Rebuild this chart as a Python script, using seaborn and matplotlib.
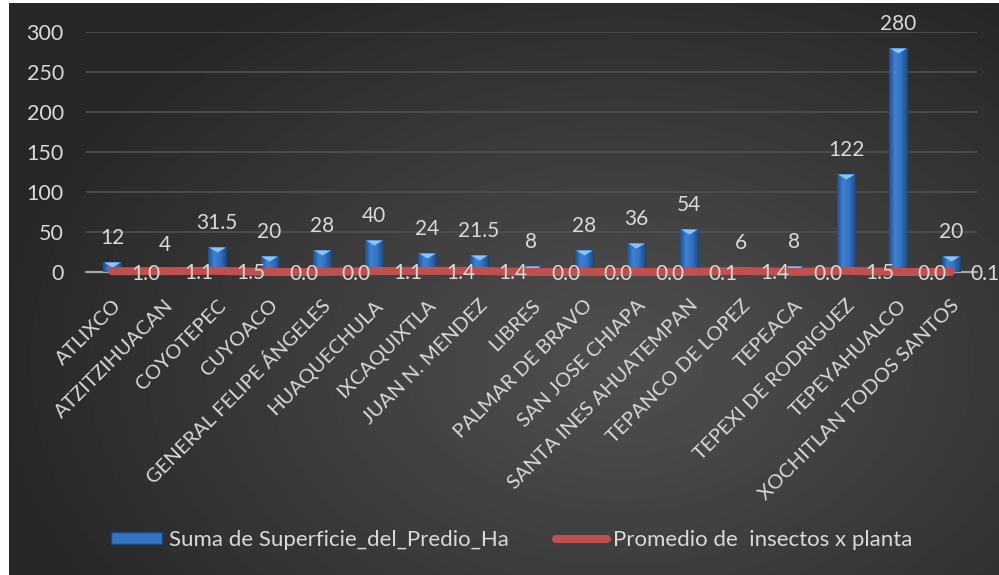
# Superficie por municipio y promedio de insectos por planta

import numpy as np
import pandas as pd
import matplotlib
matplotlib.use('Agg')
import matplotlib.pyplot as plt
import matplotlib.transforms as mtransforms
from matplotlib.colors import LinearSegmentedColormap
from matplotlib.patches import Patch
from matplotlib.lines import Line2D
import seaborn as sns

municipios = ['ATLIXCO', 'ATZITZIHUACAN', 'COYOTEPEC', 'CUYOACO', 'GENERAL FELIPE ÁNGELES',
              'HUAQUECHULA', 'IXCAQUIXTLA', 'JUAN N. MENDEZ', 'LIBRES', 'PALMAR DE BRAVO',
              'SAN JOSE CHIAPA', 'SANTA INES AHUATEMPAN', 'TEPANCO DE LOPEZ', 'TEPEACA',
              'TEPEXI DE RODRIGUEZ', 'TEPEYAHUALCO', 'XOCHITLAN TODOS SANTOS']
superficie = [12, 4, 31.5, 20, 28, 40, 24, 21.5, 8, 28, 36, 54, 6, 8, 122, 280, 20]
insectos = [1.0, 1.1, 1.5, 0.0, 0.0, 1.1, 1.4, 1.4, 0.0, 0.0, 0.0, 0.1, 1.4, 0.0, 1.5, 0.0, 0.1]
y_ticks = [0, 50, 100, 150, 200, 250, 300]

serie_barras = 'Suma de Superficie_del_Predio_Ha'
serie_linea = 'Promedio de  insectos x planta'

txt = '#d9d9d9'
rojo = '#c0504d'

sns.set_theme(style='dark')
plt.rcParams['font.family'] = ['Lato', 'DejaVu Sans']

df = pd.DataFrame({'municipio': municipios, 'superficie': superficie, 'insectos': insectos})
n = len(df)

fig = plt.figure(figsize=(9.99, 5.75), dpi=100, facecolor='white')

# fondo con degradado radial (estilo Excel)
bg = fig.add_axes([9 / 999, 0, 990 / 999, 572 / 575], zorder=0)
bg.set_axis_off()
yy, xx = np.mgrid[0:572, 0:990]
r = np.sqrt(((xx - 610) / 640) ** 2 + ((yy - 360) / 440) ** 2)
shade = 0.31 - 0.16 * np.clip(r, 0, 1) ** 1.1
bg.imshow(shade, cmap='gray', vmin=0, vmax=1, aspect='auto', interpolation='bilinear')

ax = fig.add_axes([86 / 999, 1 - 272 / 575, (977 - 86) / 999, 240 / 575], zorder=1)
ax.set_facecolor('none')

sns.barplot(data=df, x='municipio', y='superficie', color='#2f6db8', width=0.34,
            saturation=1, edgecolor='#1b467c', linewidth=0.8, ax=ax, zorder=2)

# degradado horizontal dentro de cada barra
cmap_barra = LinearSegmentedColormap.from_list('barra', ['#1f4f8f', '#3f82d2', '#3373c2', '#204f8c'])
grad = np.linspace(0, 1, 64)[None, :]
for p in list(ax.patches):
    x0, y0 = p.get_x(), p.get_y()
    im = ax.imshow(grad, cmap=cmap_barra, aspect='auto', zorder=2.5,
                   extent=[x0, x0 + p.get_width(), y0, y0 + p.get_height()])
    im.set_clip_path(p)

# bisel superior de las barras
ax.plot(np.arange(n), df['superficie'], ls='none', marker=[(-1, 0), (1, 0), (0, -0.6)],
        markersize=12, color='#8cc4f7', markeredgewidth=0, zorder=3)

ax.axhline(0, color='#a6a6a6', lw=1.6, zorder=1.5, clip_on=False)

sns.lineplot(x=np.arange(n), y=df['insectos'], color=rojo, lw=5.8, ax=ax,
             solid_capstyle='round', zorder=4, clip_on=False)

for i, v in enumerate(superficie):
    ax.annotate(f'{v:g}', (i, v), xytext=(0, 13), textcoords='offset points',
                ha='center', va='baseline', color=txt, fontsize=15, zorder=5)
for i, v in enumerate(insectos):
    ax.annotate(f'{v:.1f}', (i, v), xytext=(14, -6), textcoords='offset points',
                ha='left', va='baseline', color=txt, fontsize=15, zorder=5,
                annotation_clip=False)

ax.set_xlim(-0.5, n - 0.5)
ax.set_ylim(0, 300)
ax.set_yticks(y_ticks)
ax.set_xlabel('')
ax.set_ylabel('')
ax.yaxis.grid(True, color='#505050', lw=1.2)
ax.xaxis.grid(False)
for s in ax.spines.values():
    s.set_visible(False)

ax.tick_params(axis='y', labelcolor=txt, labelsize=15.5, length=0, pad=16)
ax.tick_params(axis='x', labelcolor=txt, labelsize=14.5, length=0, pad=22)
desplaza = mtransforms.ScaledTranslation(6 / 100, 0, fig.dpi_scale_trans)
for lab in ax.get_xticklabels():
    lab.set_rotation(45)
    lab.set_ha('right')
    lab.set_va('center')
    lab.set_rotation_mode('anchor')
    lab.set_transform(lab.get_transform() + desplaza)

handles = [Patch(facecolor='#3574c0', edgecolor='#1b467c', label=serie_barras),
           Line2D([0], [0], color=rojo, lw=5.8, solid_capstyle='round', label=serie_linea)]
fig.legend(handles=handles, loc='center', bbox_to_anchor=(0.5125, 0.061), ncol=2,
           frameon=False, fontsize=16, labelcolor=txt, handlelength=2.3,
           handleheight=0.45, handletextpad=0.3, columnspacing=2.1)

fig.savefig('out.png', dpi=100, facecolor=fig.get_facecolor())
